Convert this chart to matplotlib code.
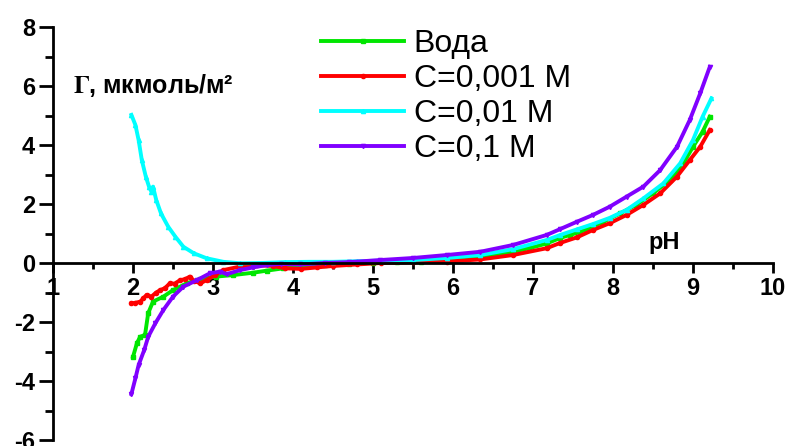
import matplotlib
matplotlib.use("Agg")
import matplotlib.pyplot as plt
from matplotlib.ticker import MultipleLocator

plt.rcParams['font.family'] = ['Liberation Sans', 'DejaVu Sans']
plt.rcParams['font.weight'] = 'bold'
plt.rcParams['axes.unicode_minus'] = False
plt.rcParams['mathtext.fontset'] = 'stix'

# Вода
ph_w = [2.0, 2.05, 2.09, 2.15, 2.19, 2.25, 2.38, 2.5, 2.67, 2.84, 3.04, 3.25, 3.5, 3.67, 3.88,
        4.1, 4.4, 4.7, 5.0, 5.3, 5.6, 5.9, 6.1, 6.34, 6.55, 6.75, 6.95, 7.17, 7.34, 7.46, 7.59,
        7.67, 7.88, 8.09, 8.29, 8.5, 8.71, 8.88, 9.0, 9.12, 9.21]
g_w = [-3.18, -2.71, -2.5, -2.44, -1.7, -1.31, -1.14, -0.92, -0.69, -0.54, -0.46, -0.41, -0.33,
       -0.26, -0.18, -0.12, -0.06, -0.02, 0.0, 0.02, 0.05, 0.1, 0.14, 0.2, 0.28, 0.38, 0.5, 0.66,
       0.85, 0.95, 1.05, 1.15, 1.40, 1.68, 1.97, 2.36, 2.81, 3.38, 3.94, 4.45, 4.96]

# C=0,001 M
ph_1 = [1.98, 2.03, 2.09, 2.13, 2.17, 2.23, 2.29, 2.34, 2.4, 2.46, 2.52, 2.59, 2.65, 2.71, 2.76,
        2.84, 2.92, 3.02, 3.13, 3.34, 3.55, 3.75, 3.9, 4.1, 4.3, 4.5, 4.8, 5.1, 5.5, 5.92, 6.34,
        6.75, 7.17, 7.34, 7.55, 7.75, 7.96, 8.17, 8.38, 8.59, 8.8, 8.96, 9.09, 9.21]
g_1 = [-1.37, -1.35, -1.31, -1.2, -1.08, -1.14, -1.0, -0.92, -0.85, -0.69, -0.7, -0.58, -0.55,
       -0.46, -0.6, -0.69, -0.58, -0.42, -0.24, -0.12, -0.08, -0.1, -0.18, -0.2, -0.15, -0.1,
       -0.05, 0.0, 0.02, 0.05, 0.12, 0.27, 0.5, 0.68, 0.87, 1.12, 1.35, 1.63, 1.97, 2.36, 2.93,
       3.49, 3.94, 4.51]

# C=0,01 M
ph_2 = [1.98, 2.03, 2.07, 2.11, 2.16, 2.2, 2.23, 2.25, 2.29, 2.35, 2.44, 2.53, 2.63, 2.76, 2.92,
        3.13, 3.34, 3.6, 3.9, 4.2, 4.5, 4.8, 5.1, 5.5, 5.92, 6.34, 6.75, 7.17, 7.34, 7.55, 7.75,
        7.96, 8.17, 8.38, 8.63, 8.84, 9.0, 9.12, 9.23]
g_2 = [5.02, 4.68, 4.17, 3.49, 2.93, 2.59, 2.42, 2.59, 2.14, 1.68, 1.23, 0.89, 0.55, 0.33, 0.16,
       0.04, -0.01, 0.0, 0.03, 0.04, 0.04, 0.06, 0.08, 0.1, 0.17, 0.27, 0.47, 0.78, 0.95, 1.14,
       1.32, 1.53, 1.8, 2.19, 2.7, 3.38, 4.17, 4.96, 5.58]

# C=0,1 M
ph_3 = [1.98, 2.03, 2.07, 2.14, 2.19, 2.28, 2.38, 2.5, 2.63, 2.8, 2.96, 3.09, 3.17, 3.34, 3.5,
        3.67, 3.85, 4.09, 4.4, 4.7, 5.09, 5.5, 5.92, 6.34, 6.75, 7.17, 7.34, 7.55, 7.75, 7.96,
        8.17, 8.38, 8.59, 8.8, 8.96, 9.09, 9.21]
g_3 = [-4.44, -3.91, -3.46, -2.95, -2.5, -2.04, -1.59, -1.14, -0.8, -0.58, -0.35, -0.29, -0.38,
       -0.24, -0.15, -0.07, -0.03, -0.05, 0.0, 0.03, 0.1, 0.17, 0.27, 0.38, 0.61, 0.95, 1.15,
       1.40, 1.63, 1.91, 2.25, 2.59, 3.15, 3.94, 4.85, 5.75, 6.65]

labels = ['Вода', 'C=0,001 M', 'C=0,01 M', 'C=0,1 M']

fig = plt.figure(figsize=(7.89, 4.46), dpi=100)
ax = fig.add_axes([53/789, 6/446, 720/789, 413/446])

ax.plot(ph_w, g_w, color='#00e600', lw=2.8, marker='s', ms=3, label=labels[0])
ax.plot(ph_1, g_1, color='#ff0000', lw=2.8, marker='o', ms=3, label=labels[1])
ax.plot(ph_2, g_2, color='#00ffff', lw=2.8, marker='^', ms=3, label=labels[2])
ax.plot(ph_3, g_3, color='#8000ff', lw=2.8, marker='v', ms=3, label=labels[3])

ax.set_xlim(1, 10)
ax.set_ylim(-6, 8)
ax.spines['top'].set_visible(False)
ax.spines['right'].set_visible(False)
ax.spines['bottom'].set_position(('data', 0))
ax.spines['bottom'].set_linewidth(2)
ax.spines['left'].set_linewidth(2)

ax.xaxis.set_major_locator(MultipleLocator(1))
ax.xaxis.set_minor_locator(MultipleLocator(0.5))
ax.yaxis.set_major_locator(MultipleLocator(2))
ax.yaxis.set_minor_locator(MultipleLocator(1))
ax.tick_params(which='both', width=2, labelsize=17)
ax.tick_params(axis='x', which='major', length=7, pad=3)
ax.tick_params(axis='x', which='minor', length=4)
ax.tick_params(axis='y', which='major', length=10, pad=3)
ax.tick_params(axis='y', which='minor', length=6)

ax.text(1.25, 6.03, r'$\mathbf{\Gamma}$, мкмоль/м²', fontsize=18, fontweight='bold',
        va='center', ha='left')
ax.text(8.64, 0.71, 'pH', fontsize=17, fontweight='bold', ha='center', va='center')

ax.legend(loc='upper left', bbox_to_anchor=(321/789, 1 - 29/446),
          bbox_transform=fig.transFigure, frameon=False,
          prop={'size': 23, 'weight': 'normal'},
          handlelength=2.6, handletextpad=0.3, labelspacing=0.16,
          borderpad=0, borderaxespad=0, markerscale=1)

fig.savefig('out.png', dpi=100)
